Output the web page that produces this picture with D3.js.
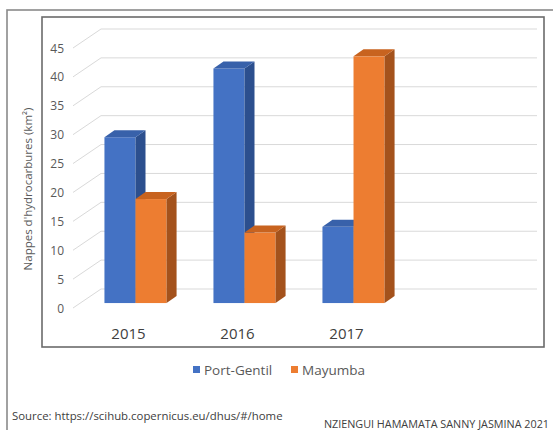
<!DOCTYPE html>
<html><head><meta charset="utf-8">
<script src="https://cdn.jsdelivr.net/npm/d3@7"></script>
<style>body{margin:0;background:#fff;}svg{display:block;font-family:"Open Sans",sans-serif;}</style>
</head><body>
<svg id="chart" width="553" height="430"></svg>
<script>
const categories = ["2015", "2016", "2017"];
const series = ["Port-Gentil", "Mayumba"];
const portGentil = [28.7, 40.6, 13.2];
const mayumba = [18.0, 12.2, 42.7];
const yTicks = [0, 5, 10, 15, 20, 25, 30, 35, 40, 45];
const yTitle = "Nappes d'hydrocarbures (km²)";
const sourceText = "Source: https://scihub.copernicus.eu/dhus/#/home";
const authorText = "NZIENGUI HAMAMATA SANNY JASMINA 2021";

const colors = {
  "Port-Gentil": {front: "#4472C4", side: "#2C4F8E", top: "#3861AA"},
  "Mayumba": {front: "#ED7D31", side: "#A4521C", top: "#C8631F"}
};

const svg = d3.select("#chart");

// frames
svg.append("rect").attr("x", 7).attr("y", 10).attr("width", 600).attr("height", 500)
  .attr("fill", "none").attr("stroke", "#8a8a8a").attr("stroke-width", 1.6);
svg.append("rect").attr("x", 42).attr("y", 17).attr("width", 502).attr("height", 330)
  .attr("fill", "none").attr("stroke", "#6b6b6b").attr("stroke-width", 1.6);

// 3D projection
const DX = 27, DY = 19;         // depth vector of the floor
const f1 = 0.26, f2 = 0.63;     // bar front/back depth fractions

// 4 slots: three categories plus an empty slot, as in the original plot area
const x0 = d3.scaleBand().domain(categories.concat([" "])).range([74, 510]).padding(0);
const x1 = d3.scaleBand().domain(series).range([0, x0.bandwidth()]).paddingInner(0).paddingOuter(0.754);
const y = d3.scaleLinear().domain([0, 45]).range([308, 48]);

const grid = svg.append("g");
yTicks.forEach(t => {
  grid.append("line").attr("x1", 74 - 1).attr("y1", y(t)).attr("x2", 74 + DX).attr("y2", y(t) - DY)
    .attr("stroke", "#d9d9d9").attr("stroke-width", 1);
  grid.append("line").attr("x1", 74 + DX).attr("y1", y(t) - DY).attr("x2", 510 + DX).attr("y2", y(t) - DY)
    .attr("stroke", "#d9d9d9").attr("stroke-width", 1);
});

// y tick labels
svg.append("g").selectAll("text").data(yTicks).join("text")
  .attr("x", 64).attr("y", d => y(d)).attr("text-anchor", "end").attr("dominant-baseline", "central")
  .attr("font-size", 12).attr("fill", "#595959").text(d => d);

// y title
svg.append("text").attr("transform", "translate(27,189) rotate(-90)")
  .attr("text-anchor", "middle").attr("dominant-baseline", "central")
  .attr("font-size", 11.5).attr("fill", "#595959").text(yTitle);

// bars
const values = {"Port-Gentil": portGentil, "Mayumba": mayumba};
const bars = svg.append("g");
const fx = DX * f1, fy = DY * f1;
const bdx = DX * (f2 - f1), bdy = DY * (f2 - f1);
categories.forEach((c, i) => {
  series.forEach(s => {
    const v = values[s][i];
    const w = x1.bandwidth();
    const xl = x0(c) + x1(s) + fx;
    const xr = xl + w;
    const yt = y(v) - fy, yb = y(0) - fy;
    const col = colors[s];
    bars.append("rect").attr("x", xl).attr("y", yt).attr("width", w).attr("height", yb - yt).attr("fill", col.front);
    bars.append("polygon").attr("points", [[xr, yt], [xr + bdx, yt - bdy], [xr + bdx, yb - bdy], [xr, yb]].join(" ")).attr("fill", col.side);
    bars.append("polygon").attr("points", [[xl, yt], [xl + bdx, yt - bdy], [xr + bdx, yt - bdy], [xr, yt]].join(" ")).attr("fill", col.top);
  });
});

// category labels
svg.append("g").selectAll("text").data(categories).join("text")
  .attr("x", d => x0(d) + x0.bandwidth() / 2).attr("y", 333)
  .attr("text-anchor", "middle").attr("dominant-baseline", "central")
  .attr("font-size", 15).attr("fill", "#404040").text(d => d);

// legend
const legendX = {"Port-Gentil": 193, "Mayumba": 291};
series.forEach(s => {
  svg.append("rect").attr("x", legendX[s]).attr("y", 366).attr("width", 7).attr("height", 7).attr("fill", colors[s].front);
  svg.append("text").attr("x", legendX[s] + 11).attr("y", 370).attr("dominant-baseline", "central")
    .attr("font-size", 13.5).attr("fill", "#595959").text(s);
});

// footer
svg.append("text").attr("x", 12).attr("y", 415).attr("dominant-baseline", "central")
  .attr("font-size", 11.4).attr("fill", "#404040").text(sourceText);
svg.append("text").attr("x", 549).attr("y", 423).attr("text-anchor", "end").attr("dominant-baseline", "central")
  .attr("font-size", 10.8).attr("fill", "#404040").text(authorText);
</script>
</body></html>
